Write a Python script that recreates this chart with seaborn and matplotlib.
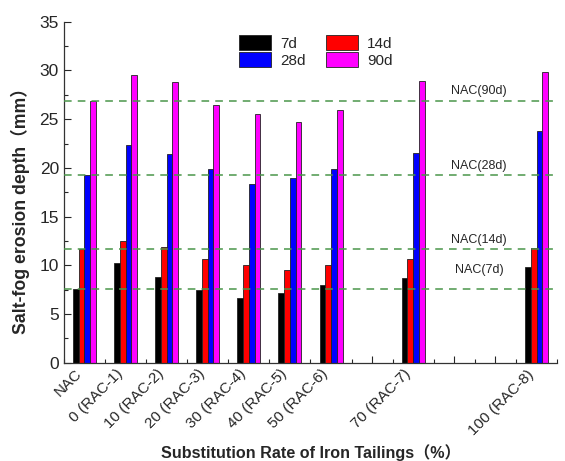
import pandas as pd
import matplotlib.pyplot as plt
import seaborn as sns
from matplotlib.ticker import MultipleLocator

# Salt-fog erosion depth (mm)
rate_labels = ['NAC', '0 (RAC-1)', '10 (RAC-2)', '20 (RAC-3)', '30 (RAC-4)',
               '40 (RAC-5)', '50 (RAC-6)', '70 (RAC-7)', '100 (RAC-8)']
rate_pos = [-10, 0, 10, 20, 30, 40, 50, 70, 100]
d7 = [7.6, 10.25, 8.76, 7.45, 6.64, 7.12, 7.97, 8.69, 9.78]
d14 = [11.63, 12.5, 11.87, 10.67, 9.99, 9.48, 9.99, 10.68, 11.77]
d28 = [19.25, 22.35, 21.46, 19.88, 18.35, 18.96, 19.88, 21.56, 23.79]
d90 = [26.9, 29.57, 28.78, 26.49, 25.49, 24.67, 25.97, 28.95, 29.88]
ages = ['7d', '14d', '28d', '90d']
colors = {'7d': '#000000', '14d': '#ff0000', '28d': '#0000ff', '90d': '#ff00ff'}

rows = []
for age, vals in zip(ages, [d7, d14, d28, d90]):
    for p, v in zip(rate_pos, vals):
        rows.append({'pos': p, 'age': age, 'depth': v})
df = pd.DataFrame(rows)

sns.set_style('white')
plt.rcParams['font.family'] = ['Liberation Sans', 'Noto Sans CJK SC', 'DejaVu Sans']

fig = plt.figure(figsize=(5.65, 4.61), dpi=100)
ax = fig.add_axes([0.113, 0.213, 0.873, 0.740])

sns.barplot(data=df, x='pos', y='depth', hue='age', hue_order=ages,
            palette=colors, saturation=1, native_scale=True, width=0.56,
            edgecolor='#222222', linewidth=0.6, ax=ax, legend=True)

# NAC reference lines
nac_vals = {'7d': d7[0], '14d': d14[0], '28d': d28[0], '90d': d90[0]}
label_y = {'7d': d7[0] + 1.3, '14d': d14[0] + 0.35, '28d': d28[0] + 0.35, '90d': d90[0] + 0.35}
for age in ages:
    ax.axhline(nac_vals[age], color='#4a964a', linestyle=(0, (5, 4)), linewidth=1.1, zorder=3)
    ax.text(86, label_y[age], f'NAC({age})', ha='center', va='bottom', fontsize=9)

ax.set_xlim(-15, 105)
ax.set_ylim(0, 35)

major = list(range(-10, 101, 10))
ax.set_xticks(major)
ax.set_xticklabels([rate_labels[rate_pos.index(m)] if m in rate_pos else '' for m in major],
                   rotation=45, ha='right')
ax.xaxis.set_minor_locator(MultipleLocator(5))
ax.yaxis.set_major_locator(MultipleLocator(5))
ax.yaxis.set_minor_locator(MultipleLocator(2.5))
ax.tick_params(axis='both', which='major', direction='in', length=5, width=0.8)
ax.tick_params(axis='y', which='major', labelsize=12.5)
ax.tick_params(axis='x', which='major', labelsize=11, pad=3)
ax.tick_params(axis='both', which='minor', direction='in', length=3, width=0.8)
ax.tick_params(bottom=True, left=True, which='both')

for s in ['top', 'right']:
    ax.spines[s].set_visible(False)
for s in ['left', 'bottom']:
    ax.spines[s].set_color('#333333')
    ax.spines[s].set_linewidth(0.9)

ax.set_xlabel('Substitution Rate of Iron Tailings（%）', fontsize=11.6, fontweight='bold', labelpad=5)
ax.set_ylabel('Salt-fog erosion depth（mm）', fontsize=12.7, fontweight='bold')
ax.yaxis.set_label_coords(-0.068, 0.457)

handles, labels = ax.get_legend_handles_labels()
hmap = dict(zip(labels, handles))
order = ['7d', '28d', '14d', '90d']
ax.legend([hmap[k] for k in order], order, ncol=2, frameon=False,
          loc='upper left', bbox_to_anchor=(0.355, 0.96), borderpad=0, borderaxespad=0,
          handlelength=2.1, handleheight=1.1, labelspacing=0.1, columnspacing=1.3,
          handletextpad=0.6, fontsize=11)

fig.savefig('out.png', dpi=100)
